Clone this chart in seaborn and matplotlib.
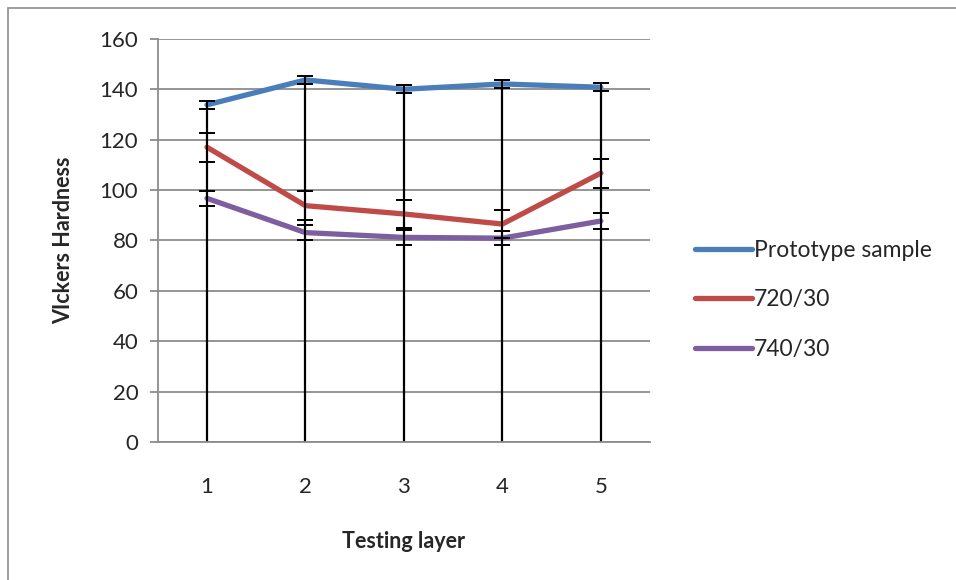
import numpy as np
import pandas as pd
import matplotlib
matplotlib.use('Agg')
import matplotlib.pyplot as plt
import seaborn as sns
from matplotlib.lines import Line2D
from matplotlib.patches import Rectangle

layers = [1, 2, 3, 4, 5]
series_names = ['Prototype sample', '720/30', '740/30']
prototype = [133.8, 143.7, 140.0, 142.1, 140.8]
prototype_err = [1.7, 1.6, 1.6, 1.6, 1.6]
s720 = [117.0, 93.8, 90.5, 86.5, 106.7]
s720_err = [5.8, 5.7, 5.7, 5.5, 5.7]
s740 = [96.7, 83.1, 81.2, 80.9, 87.7]
s740_err = [2.9, 3.0, 3.0, 2.8, 3.0]
colors = ['#4A7EBB', '#BE4B48', '#7D5FA0']

df = pd.DataFrame({
    'layer': layers * 3,
    'hardness': prototype + s720 + s740,
    'err': prototype_err + s720_err + s740_err,
    'series': [n for n in series_names for _ in layers],
})

sns.set_style('white')
plt.rcParams['font.family'] = ['Lato', 'DejaVu Sans']

fig = plt.figure(figsize=(9.56, 5.8), dpi=100)
ax = fig.add_axes([0.165, 0.238, 0.515, 0.695])

# drop lines from the highest series down to the axis
ax.vlines(layers, 0, prototype, color='black', lw=1.6, zorder=2)

sns.lineplot(data=df, x='layer', y='hardness', hue='series', palette=colors,
             lw=3.8, ax=ax, legend=False, zorder=3, solid_capstyle='round')

for name in series_names:
    d = df[df.series == name]
    ax.errorbar(d.layer, d.hardness, yerr=d.err, fmt='none', ecolor='black',
                elinewidth=1.4, capsize=6, capthick=1.4, zorder=4)

ax.set_xlim(0.5, 5.5)
ax.set_ylim(0, 160)
ax.set_yticks(range(0, 161, 20))
ax.set_xticks(layers)
ax.grid(axis='y', color='#8C8C8C', lw=1.3)
ax.set_axisbelow(True)
for s in ['top', 'right']:
    ax.spines[s].set_visible(False)
for s in ['left', 'bottom']:
    ax.spines[s].set_color('#8C8C8C')
    ax.spines[s].set_linewidth(1.3)
ax.tick_params(axis='y', left=True, length=6, width=1.3, color='#8C8C8C',
               labelsize=16, pad=8)
ax.tick_params(axis='x', bottom=False, labelsize=16, pad=22)
ax.set_xlabel('Testing layer', fontsize=15.5, fontweight='bold', labelpad=24)
ax.set_ylabel('VIckers Hardness', fontsize=15.5, fontweight='bold', labelpad=18)

handles = [Line2D([0], [0], color=c, lw=3.8, solid_capstyle='round') for c in colors]
fig.legend(handles, series_names, loc='center left', bbox_to_anchor=(0.705, 0.483),
           frameon=False, fontsize=16.5, handlelength=2.5, handletextpad=0.1,
           labelspacing=1.25)

fig.patches.append(Rectangle((8 / 956, -0.1), 1.1, 1.1 - 8 / 580,
                             transform=fig.transFigure, fill=False,
                             edgecolor='#8C8C8C', lw=1.2))

fig.savefig('out.png', dpi=100)
